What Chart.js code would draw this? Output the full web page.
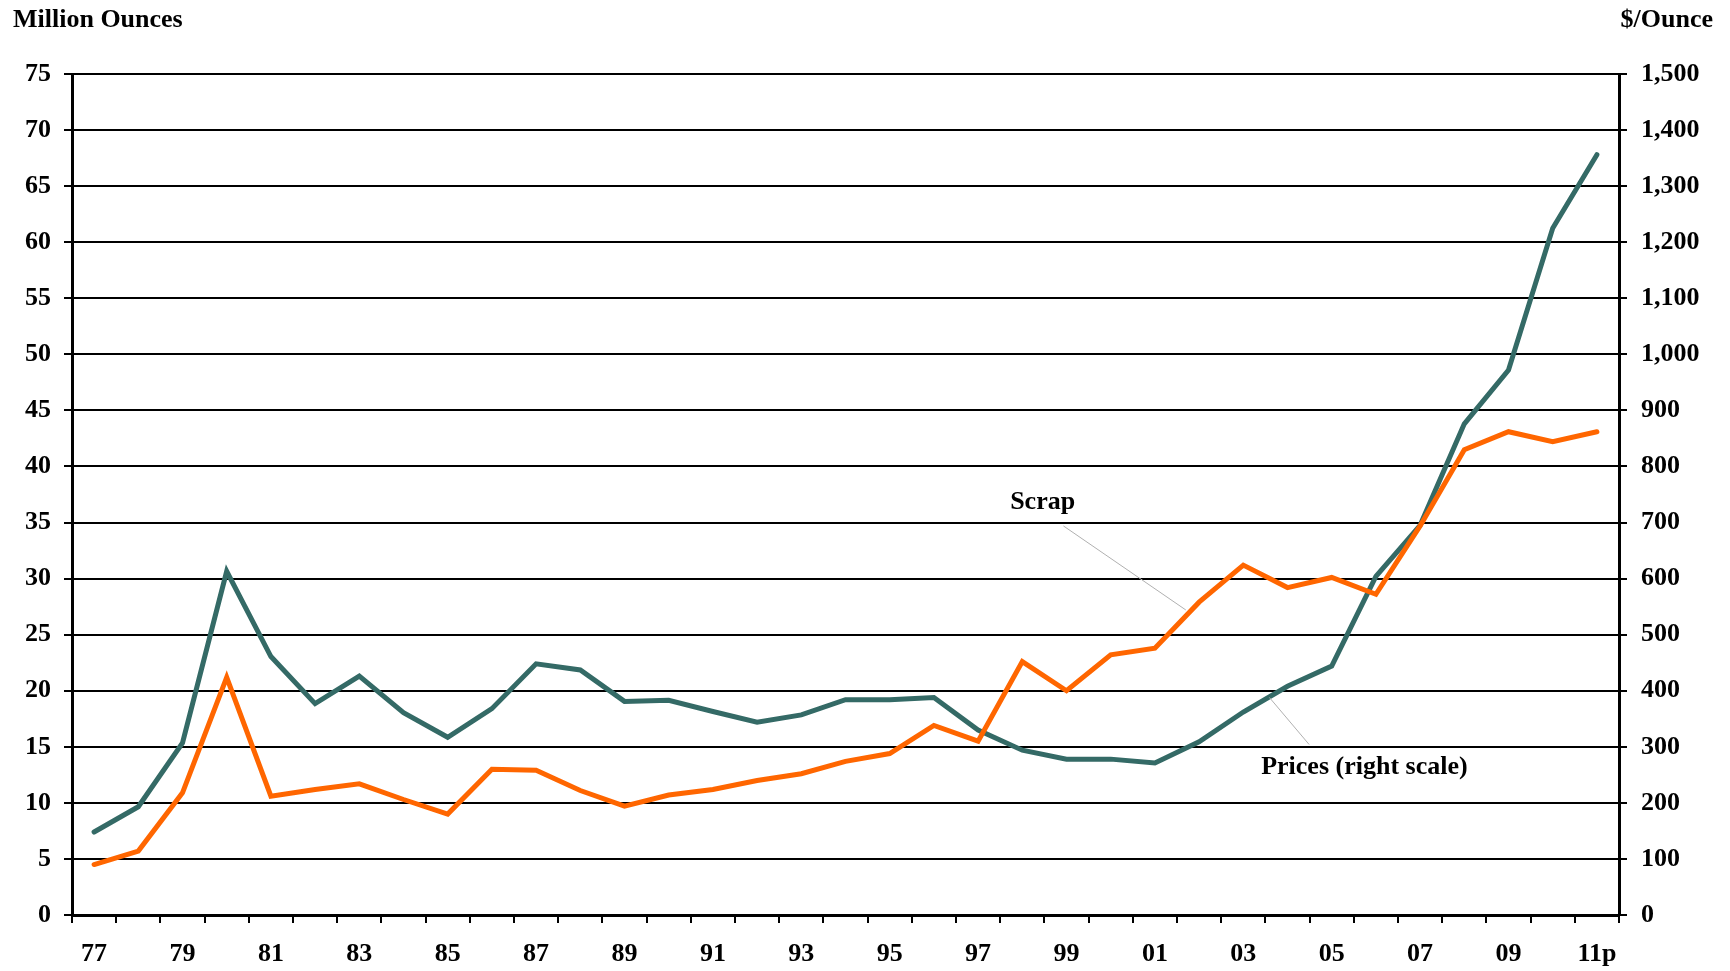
<!DOCTYPE html>
<html>
<head>
<meta charset="utf-8">
<script src="https://cdn.jsdelivr.net/npm/chart.js@4.4.0/dist/chart.umd.min.js"></script>
<style>
  body { margin: 0; background: #fff; }
  #wrap { width: 1730px; height: 971px; position: relative; }
</style>
</head>
<body>
<div id="wrap"><canvas id="graphCanvas"></canvas></div>
<script>
// years on the x axis
var years = ['77','78','79','80','81','82','83','84','85','86','87','88','89','90','91','92','93','94',
             '95','96','97','98','99','00','01','02','03','04','05','06','07','08','09','10','11p'];

// scrap, million ounces (left scale)
var scrap = [4.5, 5.7, 10.9, 21.2, 10.6, 11.2, 11.7, 10.3, 9.0, 13.0, 12.9, 11.1,
             9.7, 10.7, 11.2, 12.0, 12.6, 13.7, 14.4, 16.9, 15.5, 22.6, 20.0, 23.2,
             23.8, 27.9, 31.2, 29.2, 30.1, 28.6, 34.7, 41.5, 43.1, 42.2, 43.1];

// prices, $/ounce (right scale)
var prices = [148, 193, 307, 613, 461, 377, 426, 361, 317, 368, 448, 437,
              381, 383, 363, 344, 357, 384, 384, 388, 330, 294, 278, 278,
              271, 309, 362, 408, 444, 604, 695, 876, 972, 1225, 1356];

var FONT = "'Liberation Serif', 'Times New Roman', serif";

// label text + where it sits (category index, left-scale value) and its leader line
var notes = [
    { text: 'Scrap', at: [21.46, 36.8], from: [21.93, 34.7], to: [24.7, 27.2] },
    { text: 'Prices (right scale)', at: [28.74, 13.2], from: [27.49, 15.2], to: [26.59, 19.4] }
];

var notesPlugin = {
    id: 'notes',
    afterDatasetsDraw: function (chart) {
        var ctx = chart.ctx;
        var xs = chart.scales.x, ys = chart.scales.y;
        ctx.save();
        notes.forEach(function (n) {
            ctx.strokeStyle = '#b0b0b0';
            ctx.lineWidth = 1;
            ctx.beginPath();
            ctx.moveTo(xs.getPixelForValue(n.from[0]), ys.getPixelForValue(n.from[1]));
            ctx.lineTo(xs.getPixelForValue(n.to[0]), ys.getPixelForValue(n.to[1]));
            ctx.stroke();
            ctx.fillStyle = '#000';
            ctx.font = 'bold 26px ' + FONT;
            ctx.textAlign = 'center';
            ctx.textBaseline = 'middle';
            ctx.fillText(n.text, xs.getPixelForValue(n.at[0]), ys.getPixelForValue(n.at[1]));
        });
        // unit titles
        ctx.font = 'bold 26px ' + FONT;
        ctx.textBaseline = 'middle';
        ctx.textAlign = 'left';
        ctx.fillText('Million Ounces', 13, 20);
        ctx.textAlign = 'right';
        ctx.fillText('$/Ounce', 1713, 20);
        ctx.restore();
    }
};

var chartdata = {
    labels: years,
    datasets: [
        {
            label: 'Scrap',
            data: scrap,
            yAxisID: 'y',
            borderColor: '#FF6600',
            backgroundColor: '#FF6600',
            borderWidth: 5,
            borderCapStyle: 'round',
            pointRadius: 0,
            fill: false,
            tension: 0
        },
        {
            label: 'Prices (right scale)',
            data: prices,
            yAxisID: 'y1',
            borderColor: '#346A66',
            backgroundColor: '#346A66',
            borderWidth: 5,
            borderCapStyle: 'round',
            pointRadius: 0,
            fill: false,
            tension: 0
        }
    ]
};

var tickFont = { family: FONT, size: 26, weight: 'bold' };

var lineGraph = new Chart(document.getElementById('graphCanvas'), {
    type: 'line',
    data: chartdata,
    plugins: [notesPlugin],
    options: {
        responsive: true,
        maintainAspectRatio: false,
        animation: false,
        layout: { padding: { top: 74, left: 0, right: 0, bottom: 0 } },
        plugins: {
            legend: { display: false },
            tooltip: { enabled: false }
        },
        scales: {
            x: {
                offset: true,
                afterFit: function (s) { s.height = 56; },
                grid: { offset: true, drawOnChartArea: false, color: '#000', lineWidth: 2, tickLength: 8 },
                border: { display: true, color: '#000', width: 3 },
                ticks: {
                    autoSkip: false,
                    maxRotation: 0,
                    padding: 16,
                    color: '#000',
                    font: tickFont,
                    callback: function (val, i) { return i % 2 === 0 ? years[i] : ''; }
                }
            },
            y: {
                position: 'left',
                min: 0,
                max: 75,
                afterFit: function (s) { s.width = 72; },
                grid: { color: '#000', lineWidth: 2, tickLength: 8 },
                border: { display: true, color: '#000', width: 3 },
                ticks: { stepSize: 5, padding: 13, color: '#000', font: tickFont }
            },
            y1: {
                position: 'right',
                min: 0,
                max: 1500,
                afterFit: function (s) { s.width = 111; },
                grid: { drawOnChartArea: false, color: '#000', lineWidth: 2, tickLength: 8 },
                border: { display: true, color: '#000', width: 3 },
                ticks: {
                    stepSize: 100,
                    padding: 14,
                    color: '#000',
                    font: tickFont,
                    callback: function (v) { return v.toLocaleString('en-US'); }
                }
            }
        }
    }
});
</script>
</body>
</html>
